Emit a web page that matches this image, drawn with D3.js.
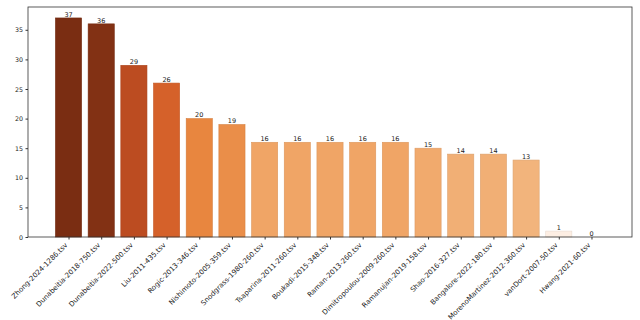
<!DOCTYPE html>
<html>
<head>
<meta charset="utf-8">
<script src="https://cdn.jsdelivr.net/npm/d3@7"></script>
<style>
  body { margin: 0; background: #fff; }
  text { font-family: "DejaVu Sans", sans-serif; fill: #222; }
</style>
</head>
<body>
<svg id="chart"></svg>
<script>
const files = [
  "Zhong-2024-1286.tsv", "Dunabeitia-2018-750.tsv", "Dunabeitia-2022-500.tsv",
  "Liu-2011-435.tsv", "Rogic-2013-346.tsv", "Nishimoto-2005-359.tsv",
  "Snodgrass-1980-260.tsv", "Tsaparina-2011-260.tsv", "Boukadi-2015-348.tsv",
  "Raman-2013-260.tsv", "Dimitropoulou-2009-260.tsv", "Ramanujan-2019-158.tsv",
  "Shao-2016-327.tsv", "Bangalore-2022-180.tsv", "MorenoMartinez-2012-360.tsv",
  "vanDort-2007-50.tsv", "Hwang-2021-60.tsv"
];
const counts = [37, 36, 29, 26, 20, 19, 16, 16, 16, 16, 16, 15, 14, 14, 13, 1, 0];
const yTicks = [0, 5, 10, 15, 20, 25, 30, 35];

// colour ramp (value -> colour)
const rampValues = [1, 13, 16, 20, 26, 29, 37];
const rampColors = ["#fdeee3", "#f2b47c", "#f0a566", "#e8863f", "#d5612a", "#bc4c21", "#7a2d12"];

const width = 640, height = 320;
const margin = { top: 7, right: 8, bottom: 83, left: 28 };
const w = width - margin.left - margin.right;
const h = height - margin.top - margin.bottom;

const svg = d3.select("#chart")
  .attr("width", width)
  .attr("height", height)
  .append("g")
  .attr("transform", `translate(${margin.left},${margin.top})`);

// matplotlib-like limits: bars of width 0.8, 5% margins
const n = files.length;
const lo = -0.4, hi = n - 1 + 0.4, pad = (hi - lo) * 0.05;
const x = d3.scaleLinear().domain([lo - pad, hi + pad]).range([0, w]);
const ymax = d3.max(counts) * 1.05;
const y = d3.scaleLinear().domain([0, ymax]).range([h, 0]);
const color = d3.scaleLinear().domain(rampValues).range(rampColors).clamp(true);

const data = files.map((f, i) => ({ name: f, value: counts[i], i: i }));

svg.selectAll("rect.bar")
  .data(data)
  .enter().append("rect")
  .attr("class", "bar")
  .attr("x", d => x(d.i - 0.4))
  .attr("width", x(0.8) - x(0))
  .attr("y", d => y(d.value))
  .attr("height", d => h - y(d.value))
  .attr("fill", d => color(d.value))
  .attr("stroke", d => d3.color(color(d.value)).darker(0.25))
  .attr("stroke-width", 0.6)
  .attr("stroke-opacity", d => d.value > 0 ? 1 : 0);

svg.selectAll("text.val")
  .data(data)
  .enter().append("text")
  .attr("class", "val")
  .attr("x", d => x(d.i))
  .attr("y", d => y(d.value) - 1.2)
  .attr("text-anchor", "middle")
  .style("font-size", "6.5px")
  .text(d => d.value);

// y axis
const yAxis = svg.append("g")
  .call(d3.axisLeft(y).tickValues(yTicks).tickSize(2.5).tickPadding(2.5));
yAxis.select(".domain").remove();
yAxis.selectAll("text").style("font-size", "6.3px");
yAxis.selectAll("line").attr("stroke", "#333");

// x axis, labels rotated like matplotlib rotation=45, ha='right'
const xAxis = svg.append("g")
  .attr("transform", `translate(0,${h})`)
  .call(d3.axisBottom(x).tickValues(d3.range(n)).tickSize(2.5).tickFormat(i => files[i]));
xAxis.select(".domain").remove();
xAxis.selectAll("line").attr("stroke", "#333");
xAxis.selectAll("text")
  .style("font-size", "7px")
  .attr("text-anchor", "end")
  .attr("x", 0)
  .attr("y", 0)
  .attr("dy", 0)
  .attr("transform", "translate(-1,8.5) rotate(-45)");

// frame
svg.append("rect")
  .attr("width", w)
  .attr("height", h)
  .attr("fill", "none")
  .attr("stroke", "#333")
  .attr("stroke-width", 0.8);
</script>
</body>
</html>
